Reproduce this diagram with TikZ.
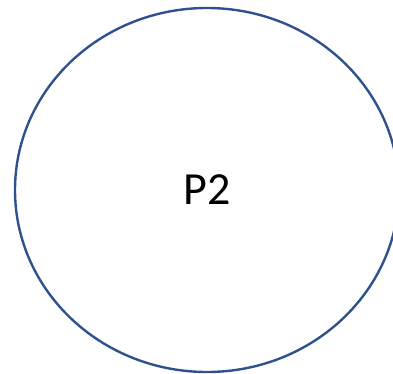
\documentclass[tikz,border=0pt]{standalone}
\usepackage{fontspec}
\setmainfont{Carlito}
\usetikzlibrary{shapes.geometric}
\definecolor{ringblue}{RGB}{47,82,143}
\begin{document}
\begin{tikzpicture}[
    x=1pt, y=-1pt,
    proc/.style={ellipse, draw=ringblue, line width=2.4pt, minimum width=384pt,
                 minimum height=364pt, inner sep=0pt, font=\fontsize{46}{50}\selectfont}
]
\useasboundingbox (0,0) rectangle (393,374);
\node[proc] (p2) at (207,190) {P2};
\end{tikzpicture}
\end{document}
